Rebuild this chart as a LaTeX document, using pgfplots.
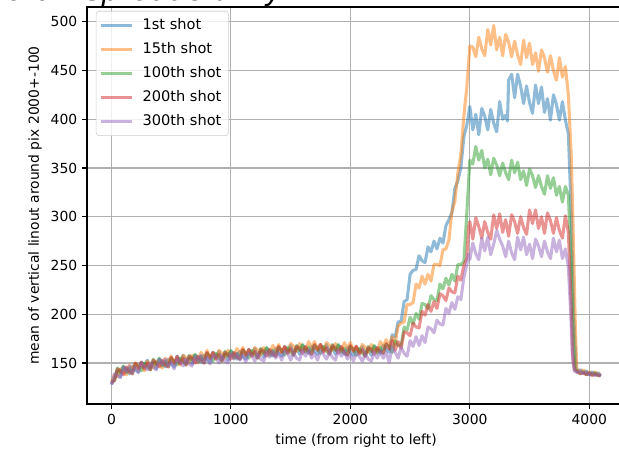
\documentclass[border=0pt]{standalone}
\usepackage{fontspec}
\setmainfont{DejaVu Sans}
\usepackage{pgfplots}
\pgfplotsset{compat=1.18}
\definecolor{c0}{HTML}{1F77B4}
\definecolor{c1}{HTML}{FF7F0E}
\definecolor{c2}{HTML}{2CA02C}
\definecolor{c3}{HTML}{D62728}
\definecolor{c4}{HTML}{9467BD}
\definecolor{gridgray}{HTML}{B0B0B0}
\begin{document}
\begin{tikzpicture}
\begin{axis}[
  scale only axis, width=387.4pt, height=285.8pt,
  xmin=-205, xmax=4300, ymin=108, ymax=515,
  xtick={0,1000,2000,3000,4000}, ytick={150,200,250,300,350,400,450,500},
  tick pos=left, tick align=outside, major tick length=3.5pt,
  tick style={black, line width=0.8pt},
  grid=major, grid style={color=gridgray, line width=0.8pt},
  axis line style={line width=0.8pt},
  ticklabel style={font=\fontsize{10}{12}\selectfont},
  /pgf/number format/assume math mode=true,
  /pgf/number format/1000 sep={},
  xlabel={time (from right to left)},
  ylabel={mean of vertical linout around pix 2000+-100},
  label style={font=\fontsize{10}{12}\selectfont},
  xlabel style={at={(axis description cs:0.5,0)}, anchor=base, yshift=-29.5pt},
  ylabel style={at={(axis description cs:0,0.5)}, anchor=base, yshift=34.6pt},
  legend cell align=left,
  legend style={at={(axis description cs:0.0167,0.99)}, anchor=north west,
    draw=black!20, rounded corners=2pt, fill=white, fill opacity=0.8, text opacity=1,
    font=\fontsize{10.5}{12}\selectfont, row sep=3.8pt, inner ysep=3.5pt, inner xsep=3pt},
  legend image code/.code={\draw[#1, line width=1.5pt, draw opacity=0.5] (0pt,0pt) -- (22pt,0pt); \path (26.5pt,0pt);},
  every axis plot/.append style={line width=2.2pt, draw opacity=0.5, line join=round},
]
\coordinate (axsw) at (rel axis cs:0,0);
\coordinate (axnw) at (rel axis cs:0,1);
\addplot[c0] coordinates {(0,128)(25,134)(50,142)(75,136)(100,146)(125,144)(150,139)(175,147)(200,143)(225,141)(250,151)(275,146)
(300,153)(325,145)(350,151)(375,144)(400,154)(425,151)(450,146)(475,154)(500,149)(525,146)(550,157)(575,151)
(600,158)(625,150)(650,155)(675,149)(700,158)(725,155)(750,151)(775,158)(800,154)(825,151)(850,161)(875,156)
(900,162)(925,154)(950,159)(975,153)(1000,162)(1025,159)(1050,154)(1075,162)(1100,157)(1125,154)(1150,164)(1175,159)
(1200,165)(1225,157)(1250,162)(1275,156)(1300,165)(1325,162)(1350,157)(1375,165)(1400,160)(1425,157)(1450,167)(1475,162)
(1500,168)(1525,160)(1550,165)(1575,159)(1600,168)(1625,165)(1650,160)(1675,167)(1700,162)(1725,159)(1750,169)(1775,163)
(1800,169)(1825,161)(1850,166)(1875,159)(1900,168)(1925,165)(1950,159)(1975,166)(2000,161)(2025,158)(2050,167)(2075,161)
(2100,167)(2125,159)(2150,164)(2175,158)(2200,167)(2225,164)(2250,160)(2275,168)(2300,164)
(2325,161)(2350,179)(2375,177)(2400,192)(2425,193)(2450,213)(2475,215)(2500,241)(2525,245)(2550,246)(2575,260)(2600,255)(2625,253)(2650,269)(2675,264)(2700,275)(2725,267)(2750,278)(2775,273)(2800,291)(2825,297)(2850,304)(2875,329)(2900,337)(2925,350)(2950,382)(2975,394)
(3000,413)(3025,389)(3050,405)(3075,384)(3100,411)(3125,403)(3150,389)(3175,410)(3200,396)(3225,387)(3250,418)(3275,400)(3300,404)(3315,398)(3325,440)(3350,446)(3375,422)(3400,446)(3425,434)(3450,416)(3475,434)(3500,417)(3525,406)(3550,435)(3575,416)(3600,433)(3625,407)(3650,421)(3675,399)(3700,425)(3725,415)(3750,399)(3775,418)(3800,399)(3825,385)(3850,300)(3870,200)(3890,145)(3900,142)(3925,143)(3950,140)(3975,142)(4000,138)(4025,141)(4050,138)(4075,140)(4095,137)};
\addlegendentry{1st shot}
\addplot[c1] coordinates {(0,130)(25,138)(50,136)(75,144)(100,140)(125,138)(150,148)(175,143)(200,150)(225,143)(250,148)(275,142)
(300,152)(325,149)(350,145)(375,152)(400,148)(425,145)(450,155)(475,150)(500,157)(525,149)(550,155)(575,148)
(600,158)(625,155)(650,150)(675,158)(700,153)(725,150)(750,161)(775,155)(800,163)(825,155)(850,160)(875,154)
(900,163)(925,160)(950,155)(975,163)(1000,158)(1025,155)(1050,165)(1075,160)(1100,166)(1125,158)(1150,163)(1175,157)
(1200,166)(1225,163)(1250,158)(1275,166)(1300,161)(1325,158)(1350,168)(1375,163)(1400,169)(1425,161)(1450,166)(1475,160)
(1500,170)(1525,167)(1550,162)(1575,170)(1600,165)(1625,162)(1650,172)(1675,166)(1700,172)(1725,164)(1750,169)(1775,162)
(1800,171)(1825,168)(1850,163)(1875,170)(1900,165)(1925,162)(1950,171)(1975,165)(2000,171)(2025,163)(2050,167)(2075,160)
(2100,169)(2125,166)(2150,161)(2175,169)(2200,164)(2225,161)(2250,172)(2275,167)(2300,174)
(2325,168)(2350,177)(2375,170)(2400,188)(2425,191)(2450,192)(2475,210)(2500,210)(2525,212)(2550,231)(2575,227)(2600,239)(2625,231)(2650,241)(2675,234)(2700,251)(2725,251)(2750,250)(2775,266)(2800,267)(2825,276)(2850,305)(2875,316)(2900,345)(2925,364)(2950,403)(2975,433)
(3000,475)(3025,474)(3050,464)(3075,484)(3100,472)(3125,465)(3150,492)(3175,476)(3200,496)(3225,471)(3250,484)(3275,465)(3300,487)(3325,479)(3350,464)(3375,480)(3400,466)(3425,456)(3450,481)(3475,463)(3500,478)(3525,456)(3550,468)(3575,449)(3600,471)(3625,463)(3650,448)(3675,465)(3700,450)(3725,440)(3750,463)(3775,443)(3800,454)(3825,425)(3850,360)(3870,260)(3885,180)(3895,146)(3900,143)(3925,141)(3950,143)(3975,139)(4000,141)(4025,138)(4050,141)(4075,138)(4095,139)};
\addlegendentry{15th shot}
\addplot[c2] coordinates {(0,131)(25,132)(50,145)(75,140)(100,147)(125,140)(150,145)(175,139)(200,149)(225,147)(250,142)(275,150)
(300,146)(325,143)(350,154)(375,148)(400,155)(425,147)(450,152)(475,146)(500,155)(525,152)(550,148)(575,155)
(600,151)(625,148)(650,158)(675,153)(700,159)(725,151)(750,157)(775,150)(800,160)(825,157)(850,152)(875,160)
(900,155)(925,152)(950,162)(975,157)(1000,163)(1025,155)(1050,160)(1075,154)(1100,163)(1125,160)(1150,155)(1175,163)
(1200,158)(1225,155)(1250,165)(1275,160)(1300,166)(1325,158)(1350,163)(1375,157)(1400,166)(1425,163)(1450,158)(1475,166)
(1500,161)(1525,158)(1550,168)(1575,163)(1600,169)(1625,161)(1650,166)(1675,159)(1700,168)(1725,165)(1750,160)(1775,167)
(1800,162)(1825,159)(1850,169)(1875,163)(1900,169)(1925,161)(1950,165)(1975,158)(2000,167)(2025,164)(2050,158)(2075,165)
(2100,160)(2125,157)(2150,167)(2175,162)(2200,168)(2225,160)(2250,166)(2275,160)(2300,169)
(2325,167)(2350,161)(2375,173)(2400,168)(2425,168)(2450,187)(2475,184)(2500,197)(2525,190)(2550,201)(2575,195)(2600,211)(2625,210)(2650,206)(2675,219)(2700,215)(2725,214)(2750,231)(2775,226)(2800,237)(2825,230)(2850,241)(2875,234)(2900,251)(2925,251)(2950,254)(2975,304)
(3000,358)(3025,354)(3050,372)(3075,358)(3100,368)(3125,350)(3150,359)(3175,343)(3200,360)(3225,353)(3250,342)(3275,355)(3300,345)(3325,338)(3350,358)(3375,345)(3400,356)(3425,338)(3450,347)(3475,332)(3500,349)(3525,342)(3550,330)(3575,342)(3600,331)(3625,323)(3650,342)(3675,329)(3700,340)(3725,322)(3750,331)(3775,315)(3800,331)(3825,322)(3850,250)(3865,180)(3880,144)(3900,141)(3925,139)(3950,141)(3975,138)(4000,140)(4025,138)(4050,140)(4075,137)(4095,138)};
\addlegendentry{100th shot}
\addplot[c3] coordinates {(0,130)(25,132)(50,144)(75,142)(100,138)(125,146)(150,141)(175,139)(200,150)(225,145)(250,151)(275,144)
(300,150)(325,143)(350,153)(375,150)(400,146)(425,153)(450,148)(475,146)(500,156)(525,150)(550,157)(575,149)
(600,155)(625,148)(650,157)(675,155)(700,150)(725,157)(750,153)(775,150)(800,161)(825,155)(850,161)(875,154)
(900,159)(925,152)(950,161)(975,159)(1000,154)(1025,161)(1050,156)(1075,154)(1100,164)(1125,158)(1150,164)(1175,157)
(1200,162)(1225,155)(1250,164)(1275,162)(1300,157)(1325,164)(1350,159)(1375,157)(1400,167)(1425,161)(1450,167)(1475,160)
(1500,165)(1525,158)(1550,167)(1575,165)(1600,160)(1625,167)(1650,162)(1675,159)(1700,169)(1725,163)(1750,169)(1775,161)
(1800,166)(1825,159)(1850,168)(1875,165)(1900,160)(1925,167)(1950,161)(1975,158)(2000,168)(2025,162)(2050,167)(2075,159)
(2100,164)(2125,157)(2150,166)(2175,164)(2200,159)(2225,166)(2250,162)(2275,160)(2300,170)
(2325,164)(2350,173)(2375,163)(2400,172)(2425,165)(2450,182)(2475,181)(2500,178)(2525,191)(2550,187)(2575,186)(2600,203)(2625,199)(2650,210)(2675,203)(2700,213)(2725,206)(2750,221)(2775,219)(2800,214)(2825,227)(2850,223)(2875,222)(2900,239)(2925,235)(2950,250)(2975,258)(2990,290)
(3000,295)(3025,277)(3050,299)(3075,290)(3100,278)(3125,295)(3150,284)(3175,277)(3200,302)(3225,288)(3250,303)(3275,284)(3300,297)(3325,280)(3350,302)(3375,295)(3400,283)(3425,300)(3450,289)(3475,282)(3500,307)(3525,293)(3550,307)(3575,288)(3600,300)(3625,283)(3650,304)(3675,296)(3700,283)(3725,299)(3750,286)(3775,278)(3800,301)(3825,284)(3845,220)(3860,160)(3875,143)(3900,141)(3925,139)(3950,140)(3975,138)(4000,140)(4025,137)(4050,139)(4075,137)(4095,137)};
\addlegendentry{200th shot}
\addplot[c4] coordinates {(0,128)(25,139)(50,137)(75,135)(100,146)(125,141)(150,147)(175,140)(200,146)(225,140)(250,149)(275,147)
(300,143)(325,150)(350,146)(375,143)(400,154)(425,148)(450,154)(475,147)(500,151)(525,144)(550,154)(575,151)
(600,147)(625,154)(650,149)(675,147)(700,157)(725,151)(750,158)(775,150)(800,156)(825,149)(850,158)(875,156)
(900,150)(925,157)(950,152)(975,150)(1000,160)(1025,154)(1050,160)(1075,153)(1100,158)(1125,151)(1150,160)(1175,158)
(1200,152)(1225,159)(1250,154)(1275,152)(1300,162)(1325,156)(1350,162)(1375,155)(1400,160)(1425,153)(1450,162)(1475,160)
(1500,153)(1525,160)(1550,155)(1575,153)(1600,163)(1625,157)(1650,163)(1675,155)(1700,160)(1725,153)(1750,162)(1775,159)
(1800,154)(1825,161)(1850,156)(1875,153)(1900,163)(1925,157)(1950,162)(1975,154)(2000,159)(2025,152)(2050,160)(2075,157)
(2100,152)(2125,159)(2150,154)(2175,152)(2200,161)(2225,155)(2250,162)(2275,155)(2300,161)
(2325,151)(2350,165)(2375,161)(2400,155)(2425,166)(2450,160)(2475,157)(2500,173)(2525,167)(2550,177)(2575,168)(2600,178)(2625,171)(2650,187)(2675,185)(2700,181)(2725,194)(2750,190)(2775,189)(2800,206)(2825,201)(2850,212)(2875,205)(2900,218)(2925,215)(2950,238)(2975,251)(2990,262)
(3000,256)(3025,273)(3050,262)(3075,256)(3100,278)(3125,265)(3150,279)(3175,261)(3200,272)(3225,286)(3250,277)(3275,270)(3300,259)(3325,275)(3350,263)(3375,256)(3400,279)(3425,266)(3450,279)(3475,261)(3500,272)(3525,257)(3550,277)(3575,270)(3600,259)(3625,275)(3650,264)(3675,257)(3700,278)(3725,264)(3750,276)(3775,257)(3800,267)(3825,248)(3845,200)(3860,155)(3875,142)(3900,140)(3925,142)(3950,139)(3975,141)(4000,138)(4025,140)(4050,137)(4075,139)(4095,136)};
\addlegendentry{300th shot}
\end{axis}
\node[anchor=base east, font=\fontsize{21}{25}\selectfont\itshape, inner sep=0pt] at ([xshift=141pt, yshift=4.6pt]axnw) {Shot-to-shot temporal reproducibility};
\pgfresetboundingbox
\useasboundingbox ([xshift=-62.6pt, yshift=-32.4pt]axsw) rectangle ([xshift=383pt, yshift=5.04pt]axnw);
\end{tikzpicture}
\end{document}
